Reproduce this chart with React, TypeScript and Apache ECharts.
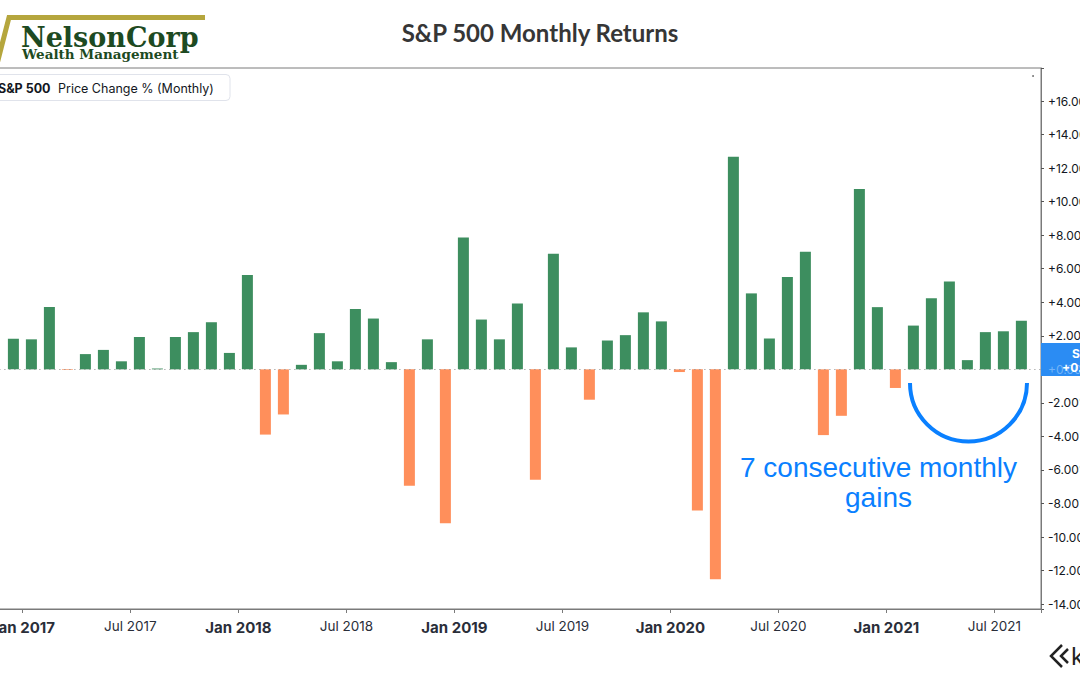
import React, { useEffect, useRef } from 'react';
import * as echarts from 'echarts';

// Monthly bars, Dec 2016 .. Aug 2021
const months = [
  'Dec 2016',
  'Jan 2017', 'Feb 2017', 'Mar 2017', 'Apr 2017', 'May 2017', 'Jun 2017', 'Jul 2017', 'Aug 2017', 'Sep 2017', 'Oct 2017', 'Nov 2017', 'Dec 2017',
  'Jan 2018', 'Feb 2018', 'Mar 2018', 'Apr 2018', 'May 2018', 'Jun 2018', 'Jul 2018', 'Aug 2018', 'Sep 2018', 'Oct 2018', 'Nov 2018', 'Dec 2018',
  'Jan 2019', 'Feb 2019', 'Mar 2019', 'Apr 2019', 'May 2019', 'Jun 2019', 'Jul 2019', 'Aug 2019', 'Sep 2019', 'Oct 2019', 'Nov 2019', 'Dec 2019',
  'Jan 2020', 'Feb 2020', 'Mar 2020', 'Apr 2020', 'May 2020', 'Jun 2020', 'Jul 2020', 'Aug 2020', 'Sep 2020', 'Oct 2020', 'Nov 2020', 'Dec 2020',
  'Jan 2021', 'Feb 2021', 'Mar 2021', 'Apr 2021', 'May 2021', 'Jun 2021', 'Jul 2021', 'Aug 2021',
];

const returns = [
  1.82,
  1.79, 3.72, -0.04, 0.91, 1.16, 0.48, 1.93, 0.05, 1.93, 2.22, 2.81, 0.98,
  5.62, -3.89, -2.69, 0.27, 2.16, 0.48, 3.6, 3.03, 0.43, -6.94, 1.79, -9.18,
  7.87, 2.97, 1.79, 3.93, -6.58, 6.89, 1.31, -1.81, 1.72, 2.04, 3.4, 2.86,
  -0.16, -8.41, -12.51, 12.68, 4.53, 1.84, 5.51, 7.01, -3.92, -2.77, 10.75, 3.71,
  -1.11, 2.61, 4.24, 5.24, 0.55, 2.22, 2.27, 2.9,
];

// x-axis tick labels every 6 months, starting Jul 2016 (x = -6)
const xTickLabels = [
  'Jul 2016', 'Jan 2017', 'Jul 2017', 'Jan 2018', 'Jul 2018', 'Jan 2019', 'Jul 2019',
  'Jan 2020', 'Jul 2020', 'Jan 2021', 'Jul 2021',
];

const lastValueLabel = '+0.28%';

const GREEN = '#3d8e5f';
const ORANGE = '#ff8f5b';
const AXIS = '#7a7a7a';
const TEXT = '#131722';
const BLUE = '#0a80ff';

export default function App() {
  const ref = useRef<HTMLDivElement>(null);

  useEffect(() => {
    const chart = echarts.init(ref.current as HTMLDivElement, null, { renderer: 'svg' });

    // x = months since start of Jan 2017; bar centred in its month
    const data = months.map((m, i) => ({
      name: m,
      value: [i - 0.5, returns[i]],
      itemStyle: { color: returns[i] >= 0 ? GREEN : ORANGE },
    }));

    chart.setOption({
      animation: false,
      backgroundColor: '#ffffff',
      title: {
        text: 'S&P 500 Monthly Returns',
        left: 'center',
        top: 15,
        textStyle: { fontFamily: 'Lato', fontWeight: 'bold', fontSize: 24, color: '#363636' },
      },
      grid: {
        left: -85.6,
        right: 39,
        top: 68,
        bottom: 66,
        containLabel: false,
        outerBoundsMode: 'none',
        show: true,
        borderColor: AXIS,
        borderWidth: 1,
        backgroundColor: 'transparent',
      },
      xAxis: {
        type: 'value',
        min: -6,
        max: 56.59,
        interval: 6,
        axisLine: { show: true, onZero: false, lineStyle: { color: AXIS, width: 1 } },
        axisTick: { show: true, length: 4, lineStyle: { color: AXIS } },
        splitLine: { show: false },
        axisLabel: {
          margin: 9,
          hideOverlap: false,
          showMinLabel: true,
          showMaxLabel: true,
          formatter: (v: number) => {
            const k = v / 6;
            if (Math.abs(k - Math.round(k)) > 1e-6) return '';
            const label = xTickLabels[Math.round(k) + 1];
            if (!label) return '';
            return label.startsWith('Jan') ? `{b|${label}}` : `{n|${label}}`;
          },
          rich: {
            b: { fontFamily: 'Inter', fontWeight: 'bold', fontSize: 15, color: '#2a2e39', lineHeight: 18 },
            n: { fontFamily: 'Inter', fontSize: 13.5, color: '#2a2e39', lineHeight: 16 },
          },
        },
      },
      yAxis: {
        type: 'value',
        position: 'right',
        min: -14.29,
        max: 17.97,
        splitNumber: 16,
        axisLine: { show: true, onZero: false, lineStyle: { color: AXIS, width: 1 } },
        axisTick: { show: true, length: 3, lineStyle: { color: '#555' } },
        splitLine: { show: false },
        axisLabel: {
          margin: 7,
          fontFamily: 'Inter',
          fontSize: 12,
          color: TEXT,
          align: 'left',
          formatter: (v: number) => {
            const r = Math.round(v);
            if (Math.abs(v - r) > 1e-6 || r % 2 !== 0) return '';
            return (r >= 0 ? '+' : '') + r.toFixed(2) + '%';
          },
        },
      },
      series: [
        {
          type: 'bar',
          data,
          barWidth: 11,
          markLine: {
            silent: true,
            symbol: 'none',
            label: { show: false },
            lineStyle: { type: [1, 4], color: '#8c8c8c', width: 1 },
            data: [{ yAxis: 0 }],
          },
        },
      ],
      graphic: [
        // NelsonCorp logo
        {
          type: 'polyline',
          shape: { points: [[-3, 64], [9, 17.5], [205, 17.5]] },
          style: { stroke: '#b5a63d', lineWidth: 5, fill: 'none' },
          z: 20,
        },
        {
          type: 'text',
          x: 21,
          y: 37.5,
          style: {
            text: 'NelsonCorp',
            fontFamily: 'DejaVu Serif',
            fontWeight: 'bold',
            fontSize: 27,
            fill: '#1d4a22',
            verticalAlign: 'middle',
          },
          z: 20,
        },
        {
          type: 'text',
          x: 22,
          y: 54,
          style: {
            text: 'Wealth Management',
            fontFamily: 'DejaVu Serif',
            fontWeight: 'bold',
            fontSize: 13.5,
            fill: '#1d4a22',
            verticalAlign: 'middle',
          },
          z: 20,
        },
        // legend box
        {
          type: 'rect',
          shape: { x: -10, y: 74.5, width: 240, height: 26, r: 4 },
          style: { fill: '#ffffff', stroke: '#e0e3eb', lineWidth: 1 },
          z: 20,
        },
        {
          type: 'text',
          x: -2,
          y: 88,
          style: { text: 'S&P 500', fontFamily: 'Inter', fontWeight: 'bold', fontSize: 12.5, fill: TEXT, verticalAlign: 'middle' },
          z: 21,
        },
        {
          type: 'text',
          x: 58,
          y: 88,
          style: { text: 'Price Change % (Monthly)', fontFamily: 'Inter', fontSize: 12.5, fill: TEXT, verticalAlign: 'middle' },
          z: 21,
        },
        // small dot top right
        { type: 'circle', shape: { cx: 1033, cy: 76, r: 0.9 }, style: { fill: '#666' }, z: 20 },
        // last value label on the axis
        {
          type: 'rect',
          shape: { x: 1041, y: 343, width: 40, height: 33 },
          style: { fill: '#2b8cf3' },
          z: 30,
        },
        {
          type: 'text',
          x: 1048,
          y: 369,
          style: { text: '+0.00%', fontFamily: 'Inter', fontSize: 12, fill: 'rgba(255,255,255,0.35)', verticalAlign: 'middle' },
          z: 31,
        },
        {
          type: 'text',
          x: 1072,
          y: 353,
          style: { text: 'S&P 500', fontFamily: 'Inter', fontWeight: 'bold', fontSize: 12, fill: '#ffffff', verticalAlign: 'middle' },
          z: 32,
        },
        {
          type: 'text',
          x: 1062,
          y: 367,
          style: { text: lastValueLabel, fontFamily: 'Inter', fontWeight: 'bold', fontSize: 12, fill: '#ffffff', verticalAlign: 'middle' },
          z: 32,
        },
        // annotation
        {
          type: 'arc',
          shape: { cx: 968.5, cy: 383, r: 58.5, startAngle: 0, endAngle: Math.PI, clockwise: true },
          style: { stroke: BLUE, lineWidth: 4, fill: 'none' },
          z: 25,
        },
        {
          type: 'text',
          x: 878.5,
          y: 452,
          style: {
            text: '7 consecutive monthly\ngains',
            fontFamily: 'Liberation Sans',
            fontSize: 28,
            lineHeight: 30,
            fill: BLUE,
            align: 'center',
            verticalAlign: 'top',
          },
          z: 25,
        },
        // koyfin mark bottom right
        {
          type: 'polyline',
          shape: { points: [[1062, 645], [1051, 656], [1062, 667]] },
          style: { stroke: '#222', lineWidth: 2.5, fill: 'none' },
          z: 20,
        },
        {
          type: 'polyline',
          shape: { points: [[1068, 649], [1061, 656], [1068, 663]] },
          style: { stroke: '#222', lineWidth: 2.5, fill: 'none' },
          z: 20,
        },
        {
          type: 'text',
          x: 1071,
          y: 656,
          style: { text: 'k', fontFamily: 'Inter', fontSize: 24, fill: '#222', verticalAlign: 'middle' },
          z: 20,
        },
      ],
    });

    return () => chart.dispose();
  }, []);

  return (
    <div
      ref={ref}
      style={{ position: 'fixed', left: 0, top: 0, width: 1080, height: 675, background: '#fff' }}
    />
  );
}
